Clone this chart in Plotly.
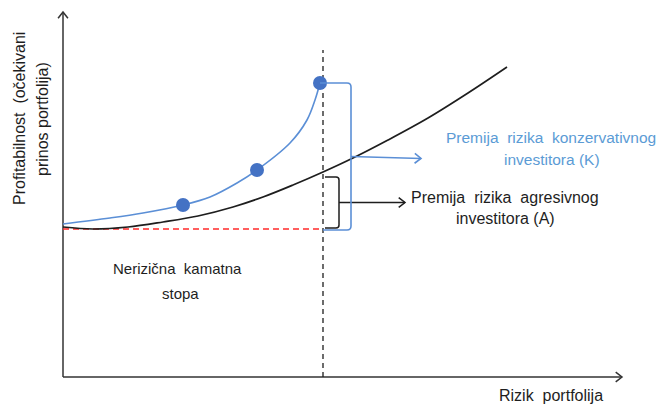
import math
import plotly.graph_objects as go

# ---------------- data (units: risk, return) ----------------
risk_free = 148
chosen_risk = 260

market_risk = [0, 30, 65, 100, 135, 170, 200, 230, 260, 290, 325, 365, 405, 444]
market_return = [150, 148, 150, 155, 161, 170, 180, 192, 205, 219, 237, 259, 284, 310]

cons_risk = [0, 47, 80, 120, 147, 174, 194, 227, 244, 252, 257]
cons_return = [153, 159, 164, 172, 180, 194, 207, 234, 257, 277, 294]

point_risk = [120, 194, 257]
point_return = [172, 207, 294]

aggr_premium_top = 200

y_title_lines = ["Profitabilnost\u00a0 (očekivani", "prinos portfolija)"]
x_title = "Rizik\u00a0 portfolija"
rf_label = ["Nerizična\u00a0 kamatna", "stopa"]
cons_label = ["Premija\u00a0 rizika\u00a0 konzervativnog", "investitora (K)"]
aggr_label = ["Premija\u00a0 rizika\u00a0 agresivnog", "investitora (A)"]

# ---------------- styles ----------------
FONT = "Liberation Sans, Arial, sans-serif"
BLUE_LINE = "#5B8FD6"
BLUE_MARK = "#4472C4"
BLUE_TEXT = "#5B9BD5"
BLACK = "#1E1E1E"
RED = "#FF2A2A"

X_MAX = 559
Y_MAX = 365
DASH_TOP = 327

fig = go.Figure()


def chevron(tip_x, tip_y, angle_deg, color, length=8, spread=38, width=1.5):
    a = math.radians(angle_deg)
    xs, ys = [], []
    for s in (spread, -spread):
        b = a + math.pi + math.radians(s)
        xs.append(tip_x + length * math.cos(b))
        ys.append(tip_y + length * math.sin(b))
    fig.add_trace(go.Scatter(x=[xs[0], tip_x, xs[1]], y=[ys[0], tip_y, ys[1]],
                             mode="lines", line=dict(color=color, width=width),
                             hoverinfo="skip", showlegend=False))


def seg(x0, y0, x1, y1, color, width=1.5, dash=None):
    fig.add_trace(go.Scatter(x=[x0, x1], y=[y0, y1], mode="lines",
                             line=dict(color=color, width=width, dash=dash),
                             hoverinfo="skip", showlegend=False))


# axes
seg(0, 0, 0, Y_MAX, "#333333", 1.5)
seg(0, 0, X_MAX, 0, "#333333", 1.5)
chevron(0, Y_MAX, 90, "#333333")
chevron(X_MAX, 0, 0, "#333333")

# dashed guides
seg(chosen_risk, 0, chosen_risk, DASH_TOP, BLACK, 1.3, "5px,4px")
seg(0, risk_free, chosen_risk, risk_free, RED, 1.5, "6px,4px")

# market curve (black)
fig.add_trace(go.Scatter(x=market_risk, y=market_return, mode="lines",
                         line=dict(color=BLACK, width=1.7, shape="spline", smoothing=1),
                         hoverinfo="skip", showlegend=False))
# conservative curve (blue)
fig.add_trace(go.Scatter(x=cons_risk, y=cons_return, mode="lines",
                         line=dict(color=BLUE_LINE, width=1.6, shape="spline", smoothing=1),
                         hoverinfo="skip", showlegend=False))
fig.add_trace(go.Scatter(x=point_risk, y=point_return, mode="markers",
                         marker=dict(color=BLUE_MARK, size=14, line=dict(width=0)),
                         hoverinfo="skip", showlegend=False))

# blue bracket (conservative premium)
bx = chosen_risk + 28
top = point_return[-1]
bot = risk_free - 1
r = 4
fig.add_shape(type="path",
              path=f"M {point_risk[-1]} {top} L {bx - r} {top} Q {bx} {top} {bx} {top - r} "
                   f"L {bx} {bot + r} Q {bx} {bot} {bx - r} {bot} L {chosen_risk} {bot}",
              line=dict(color=BLUE_LINE, width=1.6), layer="above")
mid_b = (top + bot) / 2
seg(bx, mid_b, bx + 70, mid_b - 2, BLUE_LINE, 1.6)
chevron(bx + 70, mid_b - 2, math.degrees(math.atan2(-2, 70)), BLUE_LINE, width=1.6)

# black bracket (aggressive premium)
kx = chosen_risk + 16
ktop = aggr_premium_top
kbot = risk_free + 1
fig.add_shape(type="path",
              path=f"M {chosen_risk + 2} {ktop} L {kx - 3} {ktop} Q {kx} {ktop} {kx} {ktop - 3} "
                   f"L {kx} {kbot + 3} Q {kx} {kbot} {kx - 3} {kbot} L {chosen_risk + 2} {kbot}",
              line=dict(color=BLACK, width=1.5), layer="above")
mid_k = (ktop + kbot) / 2
seg(kx, mid_k, kx + 66, mid_k, BLACK, 1.5)
chevron(kx + 66, mid_k, 0, BLACK)

# text labels
def label(x, y, text, color=BLACK, size=15, angle=0):
    fig.add_annotation(x=x, y=y, xref="x", yref="y", text=text, showarrow=False,
                       textangle=angle, xanchor="center", yanchor="middle",
                       font=dict(family=FONT, size=size, color=color))

label(-44, 258, y_title_lines[0], size=16, angle=-90)
label(-21, 258, y_title_lines[1], size=16, angle=-90)
label(488, -18, x_title, size=16)
label(114, 109, rf_label[0])
label(117, 84, rf_label[1])
label(488, 240, cons_label[0], BLUE_TEXT, 15.5)
label(489, 218, cons_label[1], BLUE_TEXT, 15.5)
label(442, 180, aggr_label[0], BLACK, 16)
label(442, 159, aggr_label[1], BLACK, 16)

# page has an 8px body margin: figure is 658x397 so it fills the window exactly
fig.update_layout(
    width=658, height=397,
    margin=dict(l=0, r=0, t=0, b=0),
    paper_bgcolor="white", plot_bgcolor="white",
    xaxis=dict(range=[-55, 603], visible=False, fixedrange=True),
    yaxis=dict(range=[-28, 369], visible=False, fixedrange=True),
    showlegend=False,
)

fig.write_html("out.html")
